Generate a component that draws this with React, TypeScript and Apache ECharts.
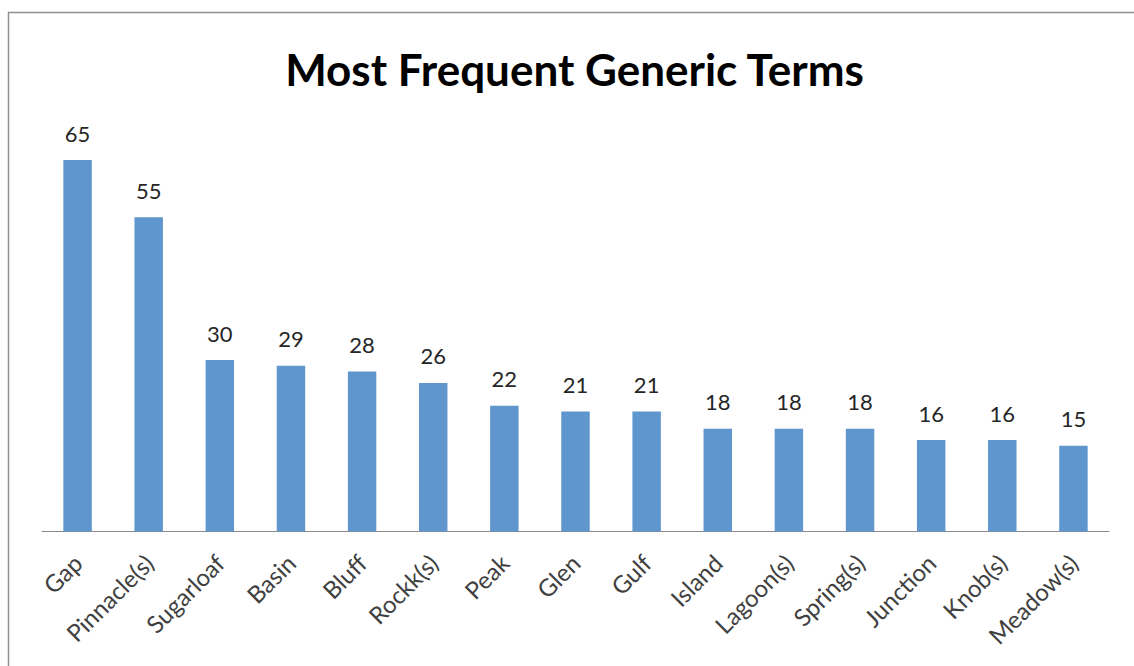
import React, { useEffect, useRef } from "react";
import * as echarts from "echarts";

const categories = [
  "Gap", "Pinnacle(s)", "Sugarloaf", "Basin", "Bluff", "Rockk(s)", "Peak", "Glen",
  "Gulf", "Island", "Lagoon(s)", "Spring(s)", "Junction", "Knob(s)", "Meadow(s)",
];
const counts = [65, 55, 30, 29, 28, 26, 22, 21, 21, 18, 18, 18, 16, 16, 15];
const titleText = "Most Frequent Generic Terms";

export default function App() {
  const ref = useRef<HTMLDivElement>(null);
  useEffect(() => {
    if (!ref.current) return;
    const chart = echarts.init(ref.current, null, { renderer: "svg" });
    chart.setOption({
      animation: false,
      backgroundColor: "#ffffff",
      grid: { left: 42, right: 25, top: 131.5, bottom: 134.5, containLabel: false },
      xAxis: {
        type: "category",
        data: categories,
        boundaryGap: true,
        axisLine: { show: true, lineStyle: { color: "#8a8a8a", width: 1 } },
        axisTick: { show: false },
        axisLabel: {
          rotate: 45,
          interval: 0,
          margin: 27,
          color: "#404040",
          fontSize: 24,
          fontFamily: "Lato",
        },
      },
      yAxis: {
        type: "value",
        min: 0,
        max: 70,
        show: false,
        splitLine: { show: false },
      },
      series: [
        {
          type: "bar",
          data: counts,
          barWidth: "40%",
          itemStyle: { color: "#5f96cd" },
          label: {
            show: true,
            position: "top",
            distance: 16,
            color: "#262626",
            fontSize: 22,
            fontFamily: "Lato",
          },
        },
      ],
      graphic: [
        {
          type: "text",
          x: 574.5,
          y: 47,
          style: {
            text: titleText,
            textAlign: "center",
            textVerticalAlign: "top",
            fontFamily: "Lato",
            fontWeight: "bold",
            fontSize: 44,
            fill: "#000000",
          },
        },
        {
          type: "line",
          shape: { x1: 8, y1: 12.5, x2: 1134, y2: 12.5 },
          style: { stroke: "#8f8f8f", lineWidth: 1.5 },
        },
        {
          type: "line",
          shape: { x1: 8.5, y1: 12, x2: 8.5, y2: 666 },
          style: { stroke: "#8f8f8f", lineWidth: 1.5 },
        },
      ],
    });
    return () => chart.dispose();
  }, []);
  return (
    <div
      ref={ref}
      style={{ position: "fixed", left: 0, top: 0, width: 1134, height: 666, background: "#fff" }}
    />
  );
}
